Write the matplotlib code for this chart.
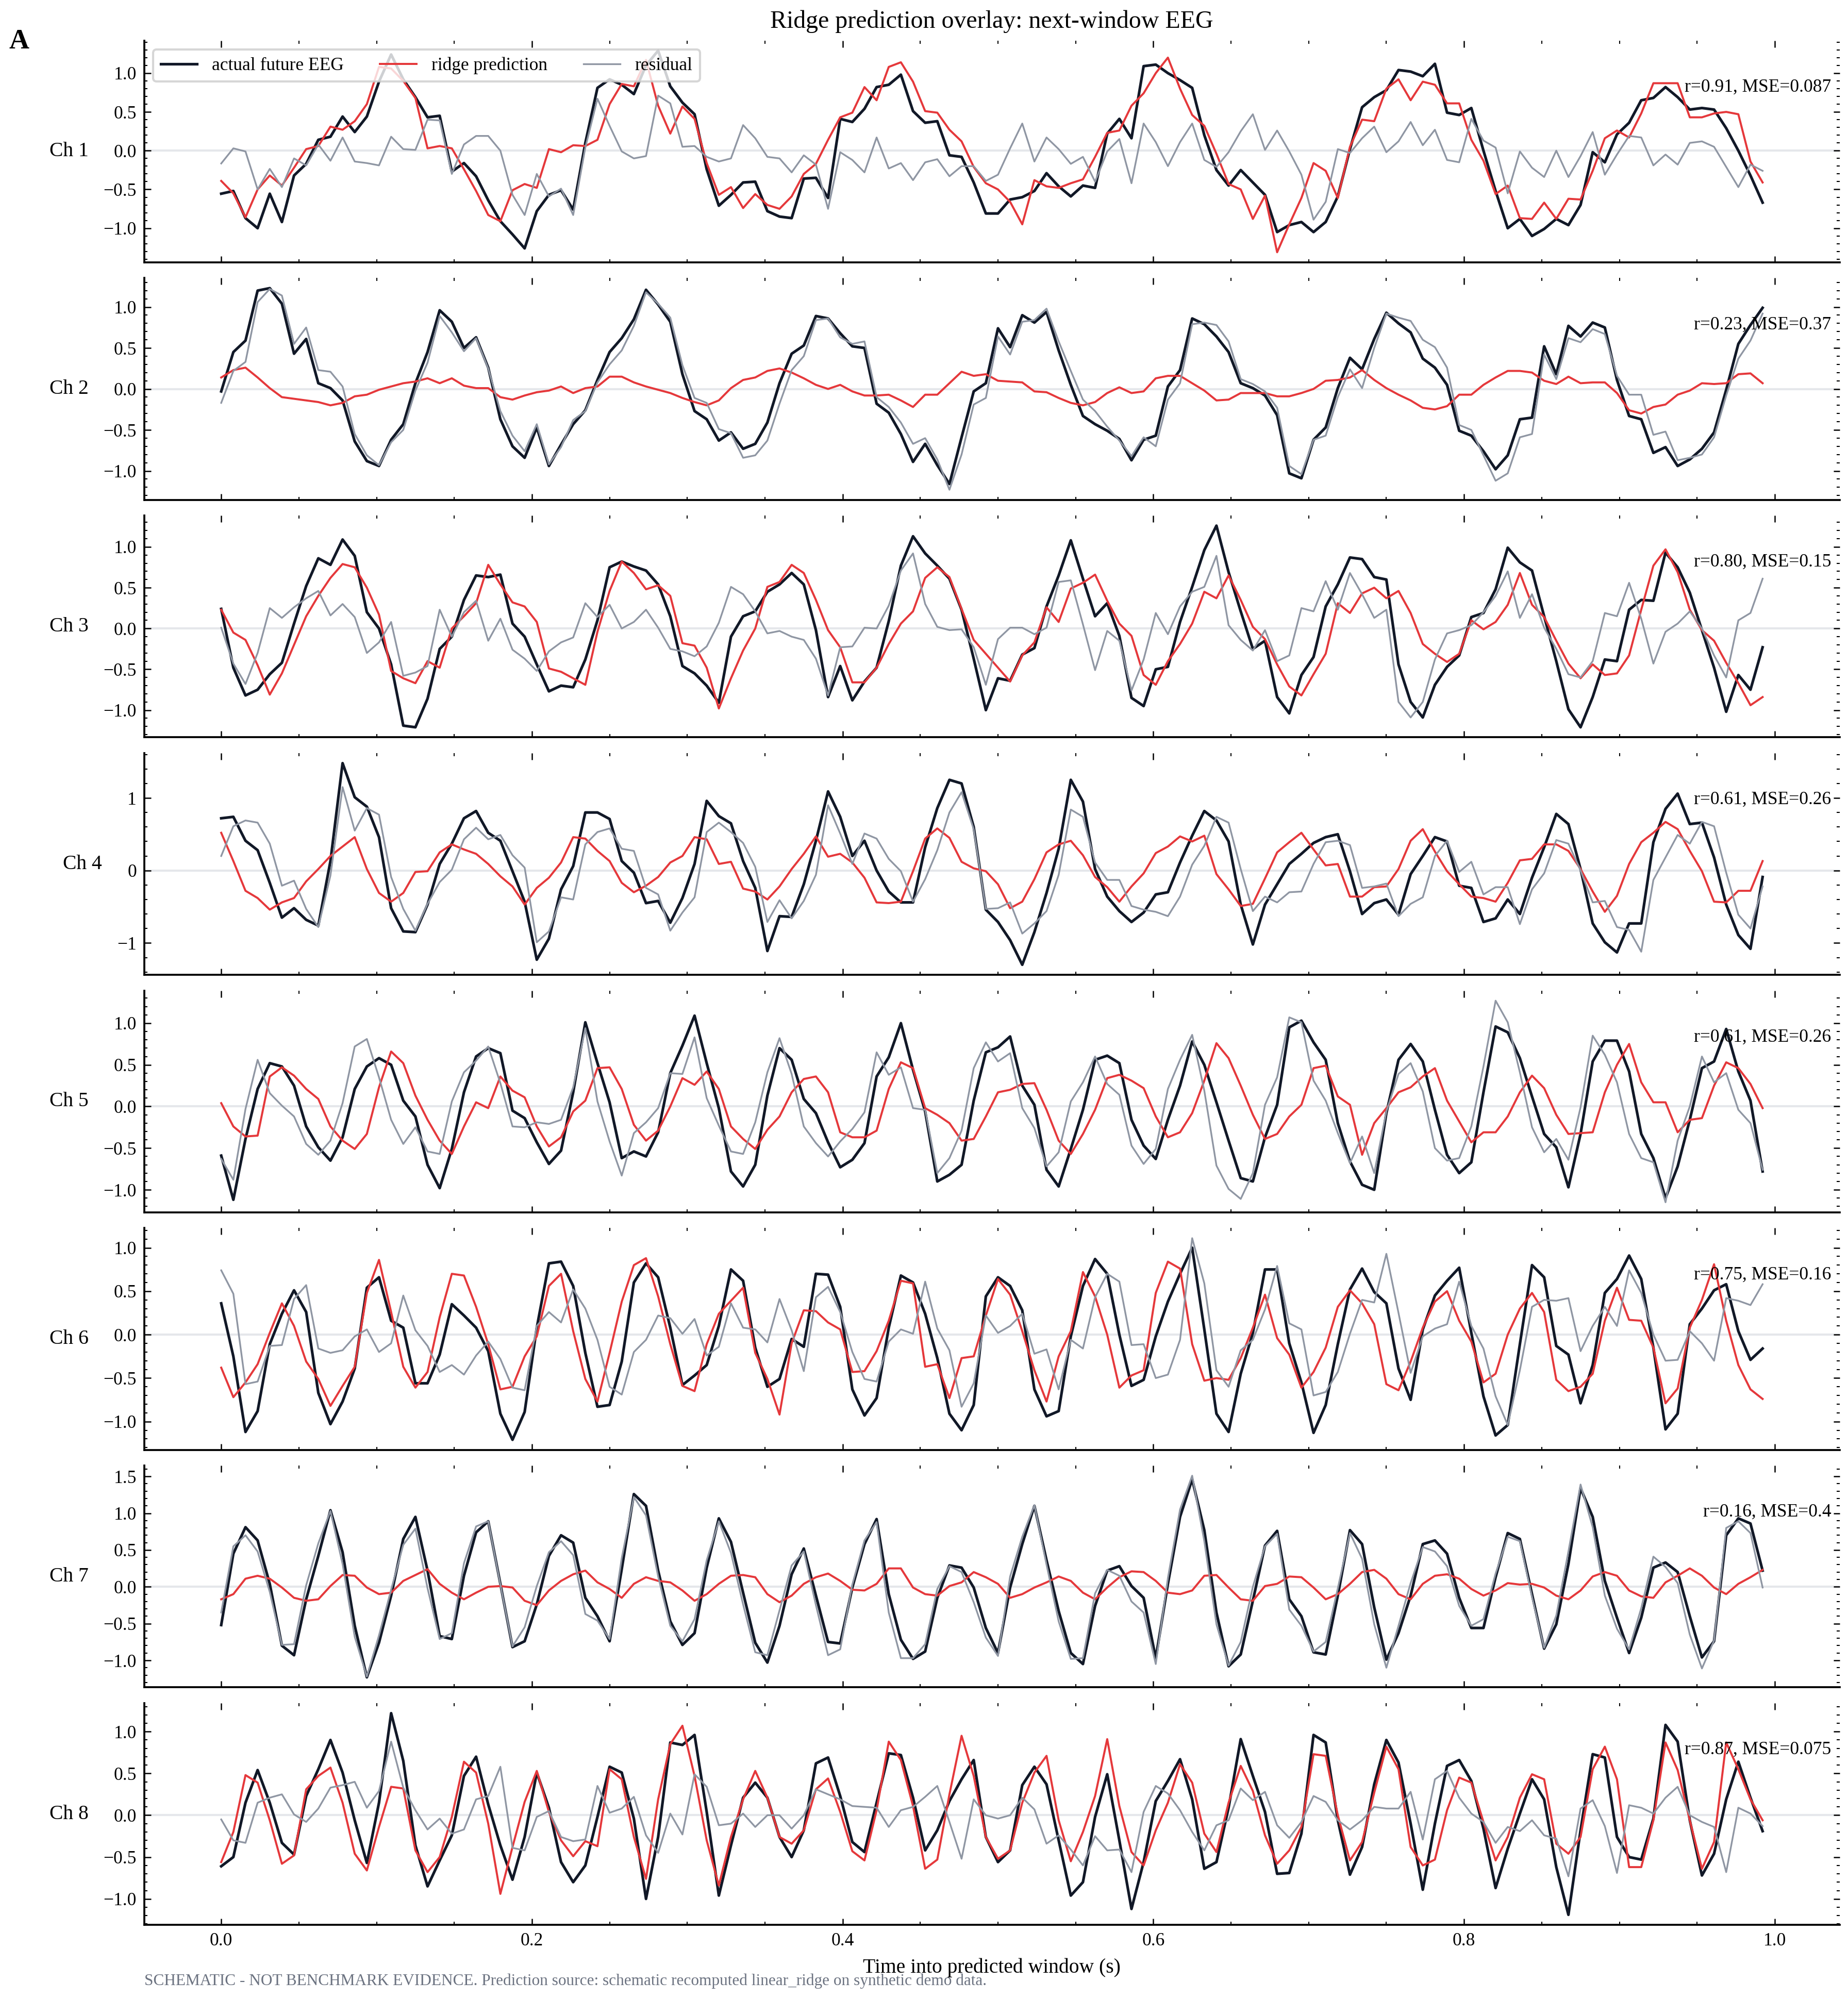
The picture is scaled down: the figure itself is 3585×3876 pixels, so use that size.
import numpy as np
import matplotlib
matplotlib.use("Agg")
from matplotlib import pyplot as plt
from matplotlib.ticker import AutoMinorLocator, MultipleLocator

sample_rate = 128

channel_names = ["Ch 1", "Ch 2", "Ch 3", "Ch 4", "Ch 5", "Ch 6", "Ch 7", "Ch 8"]
fit_labels = [
    "r=0.91, MSE=0.087",
    "r=0.23, MSE=0.37",
    "r=0.80, MSE=0.15",
    "r=0.61, MSE=0.26",
    "r=0.61, MSE=0.26",
    "r=0.75, MSE=0.16",
    "r=0.16, MSE=0.4",
    "r=0.87, MSE=0.075",
]
y_tick_steps = [0.5, 0.5, 0.5, 1.0, 0.5, 0.5, 0.5, 0.5]

# actual future EEG, one list per channel (128 samples each)
actual_ch1 = [
    -0.555, -0.52, -0.87, -1.0, -0.555, -0.92, -0.32, -0.17, 0.14, 0.18,
    0.44, 0.24, 0.44, 0.89, 1.24, 0.92, 0.69, 0.43, 0.45, -0.27,
    -0.16, -0.33, -0.64, -0.91, -1.08, -1.26, -0.78, -0.57, -0.51, -0.76,
    0.10, 0.81, 0.92, 0.85, 0.73, 1.1, 1.29, 0.83, 0.62, 0.47,
    -0.24, -0.71, -0.57, -0.41, -0.40, -0.78, -0.85, -0.87, -0.36, -0.35,
    -0.61, 0.41, 0.37, 0.54, 0.82, 0.85, 0.98, 0.51, 0.36, 0.38,
    -0.06, -0.08, -0.41, -0.81, -0.81, -0.63, -0.60, -0.52, -0.29, -0.46,
    -0.59, -0.45, -0.48, 0.22, 0.41, 0.16, 1.09, 1.11, 1.0, 0.91,
    0.81, 0.2, -0.25, -0.45, -0.25, -0.41, -0.57, -1.05, -0.96, -0.92,
    -1.05, -0.92, -0.59, 0.02, 0.56, 0.69, 0.78, 1.04, 1.02, 0.96,
    1.12, 0.49, 0.46, 0.55, 0.0, -0.52, -1.0, -0.88, -1.10, -1.01,
    -0.88, -0.96, -0.70, -0.02, -0.15, 0.21, 0.36, 0.65, 0.68, 0.82,
    0.69, 0.53, 0.55, 0.53, 0.29, 0.0, -0.32, -0.67,
]
actual_ch2 = [
    -0.03, 0.45, 0.59, 1.20, 1.23, 1.04, 0.43, 0.61, 0.07, 0.01,
    -0.14, -0.64, -0.88, -0.94, -0.62, -0.43, 0.07, 0.45, 0.96, 0.82,
    0.50, 0.63, 0.26, -0.37, -0.70, -0.84, -0.47, -0.94, -0.68, -0.43,
    -0.26, 0.11, 0.45, 0.62, 0.85, 1.21, 1.03, 0.82, 0.18, -0.27,
    -0.37, -0.63, -0.53, -0.73, -0.67, -0.41, 0.07, 0.43, 0.53, 0.89,
    0.86, 0.68, 0.52, 0.50, -0.18, -0.29, -0.55, -0.89, -0.67, -0.93,
    -1.16, -0.59, -0.03, 0.07, 0.74, 0.51, 0.90, 0.81, 0.94, 0.47,
    0.05, -0.33, -0.43, -0.51, -0.61, -0.87, -0.62, -0.57, 0.03, 0.23,
    0.86, 0.79, 0.64, 0.45, 0.07, 0.01, -0.08, -0.32, -1.03, -1.09,
    -0.62, -0.47, 0.01, 0.38, 0.24, 0.61, 0.93, 0.80, 0.69, 0.37,
    0.26, 0.05, -0.51, -0.57, -0.76, -0.98, -0.81, -0.37, -0.35, 0.52,
    0.18, 0.77, 0.64, 0.81, 0.75, 0.11, -0.33, -0.37, -0.78, -0.71,
    -0.94, -0.86, -0.73, -0.53, -0.01, 0.55, 0.78, 0.99,
]
actual_ch3 = [
    0.24, -0.48, -0.82, -0.75, -0.56, -0.42, 0.06, 0.52, 0.86, 0.78,
    1.09, 0.89, 0.20, 0.0, -0.44, -1.19, -1.21, -0.86, -0.25, -0.10,
    0.35, 0.65, 0.63, 0.66, 0.06, -0.10, -0.44, -0.77, -0.70, -0.72,
    -0.38, 0.10, 0.75, 0.82, 0.76, 0.71, 0.54, 0.15, -0.46, -0.55,
    -0.70, -0.91, -0.10, 0.15, 0.21, 0.45, 0.54, 0.68, 0.54, -0.02,
    -0.84, -0.46, -0.88, -0.65, -0.48, 0.09, 0.77, 1.13, 0.92, 0.77,
    0.61, 0.23, -0.37, -1.00, -0.61, -0.64, -0.32, -0.24, 0.27, 0.65,
    1.08, 0.61, 0.15, 0.31, -0.09, -0.85, -0.95, -0.50, -0.47, 0.08,
    0.51, 0.96, 1.26, 0.69, 0.21, -0.25, -0.15, -0.84, -1.04, -0.57,
    -0.35, 0.27, 0.54, 0.87, 0.85, 0.63, 0.60, -0.44, -0.90, -1.09,
    -0.69, -0.47, -0.33, 0.14, 0.19, 0.48, 0.99, 0.81, 0.71, 0.15,
    -0.40, -0.99, -1.21, -0.84, -0.38, -0.40, 0.23, 0.35, 0.34, 0.93,
    0.75, 0.44, -0.02, -0.48, -1.02, -0.57, -0.75, -0.23,
]
actual_ch4 = [
    0.72, 0.74, 0.41, 0.28, -0.17, -0.65, -0.52, -0.68, -0.76, 0.13,
    1.48, 1.01, 0.88, 0.46, -0.52, -0.84, -0.85, -0.47, 0.09, 0.37,
    0.72, 0.82, 0.52, 0.41, -0.01, -0.43, -1.23, -0.94, -0.26, 0.06,
    0.80, 0.80, 0.71, 0.13, -0.03, -0.45, -0.42, -0.72, -0.38, 0.09,
    0.96, 0.75, 0.65, 0.13, -0.24, -1.11, -0.63, -0.64, -0.19, 0.41,
    1.09, 0.74, 0.20, 0.41, 0.0, -0.29, -0.44, -0.44, 0.32, 0.86,
    1.25, 1.20, 0.60, -0.54, -0.71, -0.96, -1.30, -0.85, -0.31, 0.30,
    1.25, 0.95, 0.02, -0.36, -0.56, -0.71, -0.58, -0.33, -0.30, 0.11,
    0.48, 0.82, 0.69, 0.40, -0.47, -1.02, -0.47, -0.19, 0.09, 0.23,
    0.38, 0.46, 0.50, -0.01, -0.60, -0.45, -0.40, -0.61, -0.05, 0.20,
    0.46, 0.40, -0.21, -0.24, -0.71, -0.66, -0.40, -0.60, -0.10, 0.32,
    0.78, 0.64, 0.02, -0.73, -0.99, -1.13, -0.73, -0.73, 0.39, 0.85,
    1.06, 0.64, 0.66, 0.18, -0.47, -0.89, -1.08, -0.09,
]
actual_ch5 = [
    -0.59, -1.12, -0.39, 0.21, 0.52, 0.48, 0.25, -0.24, -0.49, -0.65,
    -0.37, 0.21, 0.48, 0.58, 0.50, 0.07, -0.12, -0.70, -0.98, -0.51,
    0.17, 0.60, 0.70, 0.64, -0.05, -0.14, -0.43, -0.69, -0.53, 0.17,
    1.01, 0.52, 0.05, -0.62, -0.54, -0.60, -0.31, 0.40, 0.73, 1.09,
    0.52, -0.02, -0.78, -0.96, -0.70, 0.13, 0.70, 0.56, 0.09, -0.08,
    -0.43, -0.73, -0.64, -0.44, 0.36, 0.59, 1.00, 0.44, -0.06, -0.90,
    -0.82, -0.70, 0.07, 0.65, 0.71, 0.84, 0.25, 0.02, -0.76, -0.96,
    -0.51, -0.04, 0.56, 0.61, 0.52, -0.16, -0.47, -0.63, -0.16, 0.25,
    0.78, 0.50, 0.05, -0.41, -0.86, -0.90, -0.37, 0.02, 0.95, 1.03,
    0.77, 0.56, -0.20, -0.66, -0.94, -1.00, -0.08, 0.56, 0.75, 0.54,
    -0.04, -0.58, -0.80, -0.67, 0.17, 0.96, 0.89, 0.58, 0.12, -0.33,
    -0.49, -0.97, -0.33, 0.54, 0.79, 0.79, 0.42, -0.33, -0.62, -1.10,
    -0.72, -0.16, 0.46, 0.54, 0.93, 0.42, 0.07, -0.78,
]
actual_ch6 = [
    0.36, -0.25, -1.12, -0.88, -0.11, 0.24, 0.51, 0.26, -0.67, -1.03,
    -0.77, -0.39, 0.54, 0.66, 0.16, 0.08, -0.56, -0.56, -0.23, 0.35,
    0.22, 0.08, -0.19, -0.91, -1.21, -0.89, 0.08, 0.82, 0.84, 0.56,
    -0.21, -0.83, -0.81, -0.31, 0.60, 0.82, 0.66, 0.08, -0.58, -0.47,
    -0.35, 0.10, 0.75, 0.62, -0.15, -0.60, -0.51, -0.05, -0.14, 0.70,
    0.69, 0.32, -0.63, -0.93, -0.73, 0.08, 0.68, 0.60, 0.24, -0.27,
    -0.91, -1.10, -0.81, 0.44, 0.66, 0.56, 0.28, -0.63, -0.94, -0.88,
    -0.02, 0.56, 0.87, 0.70, 0.0, -0.59, -0.52, -0.02, 0.38, 0.70,
    1.00, 0.06, -0.91, -1.12, -0.45, 0.02, 0.75, 0.75, -0.10, -0.55,
    -1.13, -0.81, -0.11, 0.52, 0.76, 0.49, 0.36, -0.39, -0.75, 0.06,
    0.45, 0.62, 0.77, 0.02, -0.71, -1.16, -1.04, -0.11, 0.80, 0.66,
    -0.13, -0.23, -0.79, -0.35, 0.48, 0.64, 0.91, 0.64, -0.15, -1.09,
    -0.91, 0.12, 0.30, 0.51, 0.58, 0.04, -0.29, -0.16,
]
actual_ch7 = [
    -0.52, 0.45, 0.81, 0.63, 0.04, -0.80, -0.93, -0.17, 0.42, 1.04,
    0.47, -0.53, -1.23, -0.76, -0.12, 0.65, 0.95, 0.22, -0.67, -0.71,
    0.15, 0.74, 0.89, 0.04, -0.82, -0.74, -0.24, 0.42, 0.70, 0.60,
    -0.15, -0.40, -0.74, 0.24, 1.26, 1.10, 0.22, -0.47, -0.79, -0.63,
    0.26, 0.93, 0.61, -0.08, -0.76, -1.03, -0.53, 0.17, 0.52, -0.12,
    -0.75, -0.77, -0.01, 0.58, 0.92, -0.10, -0.72, -0.98, -0.88, -0.15,
    0.29, 0.26, -0.01, -0.56, -0.90, -0.01, 0.58, 1.10, 0.36, -0.33,
    -0.90, -1.05, -0.26, 0.22, 0.28, 0.01, -0.15, -0.97, 0.04, 0.95,
    1.46, 0.77, -0.35, -1.08, -0.92, -0.19, 0.56, 0.76, -0.17, -0.40,
    -0.89, -0.92, -0.12, 0.77, 0.58, -0.28, -0.99, -0.63, -0.12, 0.58,
    0.63, 0.45, -0.15, -0.56, -0.56, 0.13, 0.73, 0.65, -0.10, -0.84,
    -0.51, 0.31, 1.34, 0.95, 0.08, -0.42, -0.90, -0.42, 0.26, 0.33,
    0.20, -0.40, -0.96, -0.74, 0.70, 0.93, 0.86, 0.22,
]
actual_ch8 = [
    -0.61, -0.50, 0.15, 0.54, 0.15, -0.33, -0.47, 0.23, 0.55, 0.90,
    0.51, -0.06, -0.57, 0.15, 1.22, 0.65, -0.36, -0.85, -0.54, -0.24,
    0.47, 0.70, 0.13, -0.36, -0.77, -0.26, 0.51, 0.09, -0.56, -0.80,
    -0.60, -0.02, 0.58, 0.51, -0.04, -1.00, -0.26, 0.87, 0.84, 0.96,
    0.04, -0.96, -0.36, 0.21, 0.39, 0.21, -0.26, -0.50, -0.18, 0.62,
    0.69, 0.23, -0.32, -0.44, 0.15, 0.74, 0.72, 0.21, -0.42, -0.18,
    0.17, 0.43, 0.66, -0.26, -0.56, -0.42, 0.36, 0.58, 0.37, -0.30,
    -0.96, -0.80, -0.02, 0.49, -0.30, -1.12, -0.56, 0.17, 0.41, 0.67,
    0.19, -0.64, -0.56, 0.09, 0.91, 0.47, 0.04, -0.70, -0.69, -0.22,
    0.96, 0.87, -0.06, -0.71, -0.38, 0.37, 0.90, 0.63, -0.10, -0.89,
    -0.10, 0.59, 0.66, 0.41, -0.16, -0.87, -0.40, 0.02, 0.43, 0.19,
    -0.62, -1.19, -0.18, 0.73, 0.69, -0.26, -0.50, -0.53, -0.04, 1.08,
    0.88, -0.06, -0.72, -0.46, 0.19, 0.64, 0.21, -0.19,
]

# ridge prediction, one list per channel
pred_ch1 = [
    -0.39, -0.55, -0.86, -0.50, -0.32, -0.45, -0.22, 0.02, 0.06, 0.31,
    0.27, 0.38, 0.60, 1.08, 1.06, 0.90, 0.68, 0.03, 0.06, 0.03,
    -0.24, -0.52, -0.83, -0.91, -0.51, -0.43, -0.48, 0.02, -0.02, 0.07,
    0.06, 0.14, 0.60, 0.86, 0.83, 1.17, 0.58, 0.22, 0.57, 0.41,
    -0.16, -0.57, -0.47, -0.74, -0.56, -0.70, -0.75, -0.59, -0.30, -0.17,
    0.14, 0.43, 0.49, 0.82, 0.65, 1.08, 1.14, 0.89, 0.51, 0.49,
    0.27, 0.12, -0.21, -0.42, -0.50, -0.66, -0.95, -0.38, -0.46, -0.48,
    -0.42, -0.37, -0.08, 0.23, 0.26, 0.58, 0.74, 1.0, 1.2, 0.80,
    0.46, 0.32, -0.04, -0.43, -0.50, -0.88, -0.58, -1.31, -0.95, -0.61,
    -0.16, -0.26, -0.61, 0.05, 0.40, 0.38, 0.80, 0.92, 0.65, 0.89,
    0.85, 0.61, 0.61, 0.14, -0.13, -0.56, -0.45, -0.87, -0.88, -0.67,
    -0.88, -0.62, -0.63, -0.26, 0.16, 0.26, 0.17, 0.48, 0.87, 0.87,
    0.87, 0.43, 0.43, 0.48, 0.50, 0.47, -0.14, -0.41,
]
pred_ch2 = [
    0.14, 0.23, 0.26, 0.14, 0.01, -0.10, -0.12, -0.14, -0.16, -0.20,
    -0.17, -0.09, -0.07, -0.01, 0.03, 0.07, 0.09, 0.13, 0.07, 0.13,
    0.04, 0.01, 0.01, -0.10, -0.13, -0.08, -0.04, -0.02, 0.03, -0.05,
    0.01, 0.03, 0.15, 0.15, 0.08, 0.03, -0.01, -0.05, -0.11, -0.16,
    -0.20, -0.14, 0.01, 0.11, 0.14, 0.22, 0.25, 0.20, 0.13, 0.05,
    0.0, 0.05, -0.03, -0.08, -0.08, -0.07, -0.14, -0.22, -0.07, -0.07,
    0.07, 0.21, 0.16, 0.18, 0.10, 0.09, 0.08, -0.03, -0.04, -0.11,
    -0.17, -0.20, -0.16, -0.05, 0.02, -0.05, -0.03, 0.13, 0.16, 0.16,
    0.07, -0.02, -0.14, -0.13, -0.05, -0.05, -0.05, -0.09, -0.09, -0.05,
    0.0, 0.10, 0.11, 0.14, 0.23, 0.11, 0.01, -0.07, -0.14, -0.23,
    -0.25, -0.21, -0.07, -0.07, 0.05, 0.14, 0.22, 0.22, 0.20, 0.10,
    0.06, 0.15, 0.07, 0.08, 0.08, -0.05, -0.26, -0.30, -0.22, -0.19,
    -0.07, -0.02, 0.07, 0.06, 0.07, 0.18, 0.19, 0.07,
]
pred_ch3 = [
    0.23, -0.05, -0.14, -0.45, -0.81, -0.55, -0.20, 0.15, 0.40, 0.62,
    0.79, 0.75, 0.50, 0.17, -0.52, -0.61, -0.67, -0.40, -0.48, 0.0,
    0.15, 0.31, 0.78, 0.54, 0.32, 0.27, 0.08, -0.49, -0.53, -0.61,
    -0.69, -0.04, 0.46, 0.82, 0.68, 0.48, 0.53, 0.40, -0.18, -0.21,
    -0.48, -0.98, -0.61, -0.27, 0.0, 0.51, 0.57, 0.78, 0.68, 0.35,
    -0.02, -0.23, -0.66, -0.66, -0.48, -0.19, 0.06, 0.21, 0.62, 0.75,
    0.63, 0.24, -0.14, -0.31, -0.48, -0.65, -0.33, -0.17, 0.26, 0.08,
    0.49, 0.56, 0.66, 0.34, 0.06, -0.09, -0.57, -0.69, -0.40, -0.19,
    0.06, 0.45, 0.37, 0.65, 0.35, 0.02, -0.13, -0.44, -0.71, -0.82,
    -0.56, -0.31, 0.31, 0.19, 0.43, 0.50, 0.37, 0.46, 0.19, -0.19,
    -0.31, -0.41, -0.31, 0.10, -0.01, 0.08, 0.29, 0.68, 0.29, 0.14,
    -0.15, -0.43, -0.61, -0.44, -0.57, -0.55, -0.33, 0.23, 0.77, 0.97,
    0.69, 0.23, -0.02, -0.15, -0.42, -0.67, -0.94, -0.84,
]
pred_ch4 = [
    0.52, 0.13, -0.28, -0.38, -0.54, -0.44, -0.38, -0.15, 0.02, 0.20,
    0.33, 0.46, 0.02, -0.31, -0.43, -0.31, -0.02, -0.01, 0.25, 0.36,
    0.29, 0.23, 0.09, -0.08, -0.22, -0.47, -0.24, -0.10, 0.11, 0.46,
    0.44, 0.27, 0.13, -0.17, -0.30, -0.21, -0.09, 0.11, 0.20, 0.46,
    0.43, 0.09, 0.12, -0.25, -0.29, -0.40, -0.22, 0.02, 0.23, 0.47,
    0.19, 0.23, 0.11, -0.10, -0.44, -0.45, -0.43, -0.01, 0.44, 0.58,
    0.45, 0.12, 0.03, -0.01, -0.19, -0.52, -0.43, -0.12, 0.25, 0.36,
    0.41, 0.21, -0.09, -0.23, -0.43, -0.22, -0.04, 0.24, 0.33, 0.47,
    0.40, 0.48, -0.05, -0.26, -0.49, -0.46, -0.11, 0.25, 0.39, 0.52,
    0.29, 0.07, 0.09, -0.36, -0.36, -0.23, -0.22, 0.02, 0.41, 0.57,
    0.26, -0.01, -0.19, -0.36, -0.38, -0.43, -0.17, 0.14, 0.16, 0.36,
    0.36, 0.27, 0.02, -0.29, -0.57, -0.35, 0.09, 0.39, 0.52, 0.67,
    0.57, 0.27, -0.01, -0.43, -0.44, -0.28, -0.28, 0.13,
]
pred_ch5 = [
    0.04, -0.24, -0.36, -0.35, 0.36, 0.47, 0.37, 0.21, 0.09, -0.24,
    -0.41, -0.51, -0.33, 0.23, 0.66, 0.52, 0.13, -0.16, -0.41, -0.57,
    -0.24, 0.05, -0.02, 0.36, 0.19, 0.11, -0.24, -0.48, -0.37, -0.06,
    0.07, 0.46, 0.47, 0.21, -0.22, -0.41, -0.29, 0.0, 0.34, 0.26,
    0.42, 0.21, -0.24, -0.39, -0.51, -0.28, -0.12, 0.17, 0.33, 0.36,
    0.17, -0.31, -0.37, -0.37, -0.29, 0.21, 0.53, 0.46, -0.02, -0.10,
    -0.20, -0.41, -0.39, -0.12, 0.17, 0.20, 0.27, 0.28, -0.04, -0.41,
    -0.57, -0.33, -0.04, 0.34, 0.38, 0.31, 0.22, -0.12, -0.37, -0.31,
    -0.08, 0.31, 0.76, 0.58, 0.25, -0.10, -0.39, -0.33, -0.12, 0.02,
    0.46, 0.49, 0.12, 0.02, -0.58, -0.20, -0.02, 0.17, 0.23, 0.36,
    0.46, 0.07, -0.18, -0.43, -0.31, -0.31, -0.12, 0.17, 0.37, 0.22,
    -0.10, -0.33, -0.32, -0.31, 0.17, 0.50, 0.75, 0.29, 0.05, 0.05,
    -0.31, -0.16, -0.14, 0.25, 0.53, 0.46, 0.27, -0.02,
]
pred_ch6 = [
    -0.38, -0.72, -0.55, -0.34, 0.02, 0.36, 0.10, -0.31, -0.51, -0.82,
    -0.59, -0.37, 0.48, 0.86, 0.26, -0.37, -0.61, -0.43, 0.20, 0.70,
    0.68, 0.32, -0.11, -0.63, -0.60, -0.25, -0.02, 0.56, 0.70, 0.04,
    -0.51, -0.77, -0.21, 0.38, 0.80, 0.88, 0.44, -0.11, -0.59, -0.65,
    -0.11, 0.24, 0.39, 0.54, -0.21, -0.51, -0.92, -0.10, 0.28, 0.27,
    0.14, 0.06, -0.43, -0.42, -0.19, 0.16, 0.62, 0.59, -0.37, -0.34,
    -0.73, -0.27, -0.25, 0.22, 0.64, 0.46, 0.04, -0.41, -0.77, -0.25,
    0.04, 0.72, 0.44, 0.0, -0.61, -0.47, -0.41, 0.48, 0.84, 0.76,
    -0.11, -0.53, -0.50, -0.52, -0.27, 0.08, 0.46, -0.04, -0.23, -0.61,
    -0.43, -0.15, 0.32, 0.51, 0.36, 0.12, -0.57, -0.64, -0.31, 0.08,
    0.38, 0.50, 0.16, -0.08, -0.55, -0.45, 0.0, 0.30, 0.48, 0.26,
    -0.52, -0.65, -0.60, -0.45, 0.16, 0.54, 0.17, 0.16, -0.15, -0.79,
    -0.62, 0.08, 0.40, 0.81, 0.16, -0.35, -0.63, -0.74,
]
pred_ch7 = [
    -0.17, -0.10, 0.11, 0.15, 0.11, -0.01, -0.15, -0.19, -0.17, 0.01,
    0.16, 0.15, -0.01, -0.10, -0.08, 0.08, 0.16, 0.24, 0.04, -0.08,
    -0.17, -0.08, 0.0, 0.01, -0.01, -0.19, -0.25, -0.05, 0.08, 0.17,
    0.22, 0.06, -0.03, -0.15, 0.04, 0.13, 0.08, 0.06, -0.05, -0.19,
    -0.10, 0.04, 0.15, 0.16, 0.13, -0.10, -0.21, -0.12, 0.04, 0.13,
    0.18, 0.08, -0.04, -0.05, 0.04, 0.25, 0.25, -0.01, -0.10, -0.12,
    0.01, 0.06, 0.20, 0.13, 0.04, -0.15, -0.10, -0.01, 0.06, 0.14,
    0.08, -0.08, -0.17, -0.01, 0.13, 0.21, 0.20, 0.08, -0.08, -0.10,
    -0.05, 0.15, 0.16, -0.01, -0.17, -0.19, 0.01, 0.04, 0.14, 0.13,
    -0.01, -0.17, -0.10, 0.04, 0.20, 0.23, 0.11, -0.10, -0.17, 0.04,
    0.15, 0.17, 0.11, -0.03, -0.12, -0.05, 0.05, 0.03, 0.04, -0.01,
    -0.12, -0.17, -0.05, 0.14, 0.20, 0.15, -0.05, -0.13, -0.15, 0.06,
    0.15, 0.25, 0.15, -0.01, -0.10, 0.04, 0.13, 0.23,
]
pred_ch8 = [
    -0.56, -0.20, 0.48, 0.39, -0.06, -0.58, -0.48, 0.31, 0.47, 0.57,
    0.15, -0.46, -0.66, -0.14, 0.34, 0.32, -0.42, -0.68, -0.50, -0.02,
    0.64, 0.51, -0.10, -0.94, -0.38, 0.16, 0.53, 0.04, -0.30, -0.49,
    -0.31, -0.37, 0.55, 0.43, -0.26, -0.76, 0.19, 0.85, 1.07, 0.47,
    -0.30, -0.84, -0.26, 0.19, 0.53, 0.21, -0.26, -0.34, -0.18, 0.31,
    0.44, 0.04, -0.43, -0.54, 0.06, 0.88, 0.66, 0.11, -0.64, -0.53,
    0.25, 0.95, 0.47, -0.26, -0.52, -0.42, 0.15, 0.51, 0.71, -0.06,
    -0.55, -0.20, 0.23, 0.91, 0.11, -0.44, -0.60, -0.18, 0.15, 0.61,
    0.39, -0.22, -0.44, 0.15, 0.59, 0.29, -0.24, -0.58, -0.42, -0.14,
    0.73, 0.71, 0.0, -0.54, -0.32, 0.27, 0.82, 0.55, -0.38, -0.60,
    -0.53, 0.06, 0.45, 0.39, -0.08, -0.54, -0.26, 0.21, 0.49, 0.43,
    -0.34, -0.46, -0.26, 0.55, 0.82, 0.43, -0.62, -0.62, -0.06, 0.87,
    0.54, -0.06, -0.64, -0.32, 0.87, 0.55, 0.19, -0.06,
]

actual_eeg = [actual_ch1, actual_ch2, actual_ch3, actual_ch4,
              actual_ch5, actual_ch6, actual_ch7, actual_ch8]
ridge_pred = [pred_ch1, pred_ch2, pred_ch3, pred_ch4,
              pred_ch5, pred_ch6, pred_ch7, pred_ch8]

plt.rcParams["font.family"] = ["Liberation Serif", "DejaVu Serif"]

color_actual = "#111827"
color_pred = "#e5383b"
color_resid = "#8f96a3"
color_zero = "#e5e7eb"

figure, axes = plt.subplots(8, 1, sharex=True, figsize=(11.95, 12.92), dpi=300)
figure.subplots_adjust(left=0.078, right=0.9955, top=0.9797, bottom=0.0366, hspace=0.071)

time = np.arange(len(actual_ch1)) / sample_rate

for index, ax in enumerate(axes):
    y_true = np.array(actual_eeg[index])
    y_pred = np.array(ridge_pred[index])

    ax.axhline(0, color=color_zero, linewidth=1.0, zorder=0)
    ax.plot(time, y_true, color=color_actual, linewidth=1.25, label="actual future EEG")
    ax.plot(time, y_pred, color=color_pred, linewidth=0.95, label="ridge prediction")
    ax.plot(time, y_true - y_pred, color=color_resid, linewidth=0.8, label="residual")

    ax.text(0.995, 0.79, fit_labels[index], transform=ax.transAxes,
            ha="right", va="center", fontsize=8.5)
    ax.set_ylabel(channel_names[index], rotation=0, ha="right", va="center",
                  fontsize=9.5, labelpad=7)

    ax.spines["top"].set_visible(False)
    ax.spines["right"].set_visible(False)
    ax.spines["left"].set_linewidth(0.9)
    ax.spines["bottom"].set_linewidth(0.9)
    ax.yaxis.set_major_locator(MultipleLocator(y_tick_steps[index]))
    ax.xaxis.set_minor_locator(AutoMinorLocator())
    ax.yaxis.set_minor_locator(AutoMinorLocator())
    ax.tick_params(which="both", direction="in", top=True, right=True, labelsize=8.5)
    ax.tick_params(which="major", length=3, width=0.6)
    ax.tick_params(which="minor", length=1.5, width=0.5)

axes[0].legend(loc="upper left", ncol=3, fontsize=8.5)
axes[0].set_title("Ridge prediction overlay: next-window EEG", fontsize=11.5, pad=6)
axes[-1].set_xlabel("Time into predicted window (s)", fontsize=9.5)

figure.text(0.005, 0.9855, "A", fontsize=13, fontweight="bold", va="top", ha="left")
figure.text(0.078, 0.0085,
            "SCHEMATIC - NOT BENCHMARK EVIDENCE. Prediction source: schematic recomputed "
            "linear_ridge on synthetic demo data.",
            fontsize=7.5, color="#6b7280", ha="left", va="center")

plt.savefig("out.png", dpi=300, facecolor="white")
